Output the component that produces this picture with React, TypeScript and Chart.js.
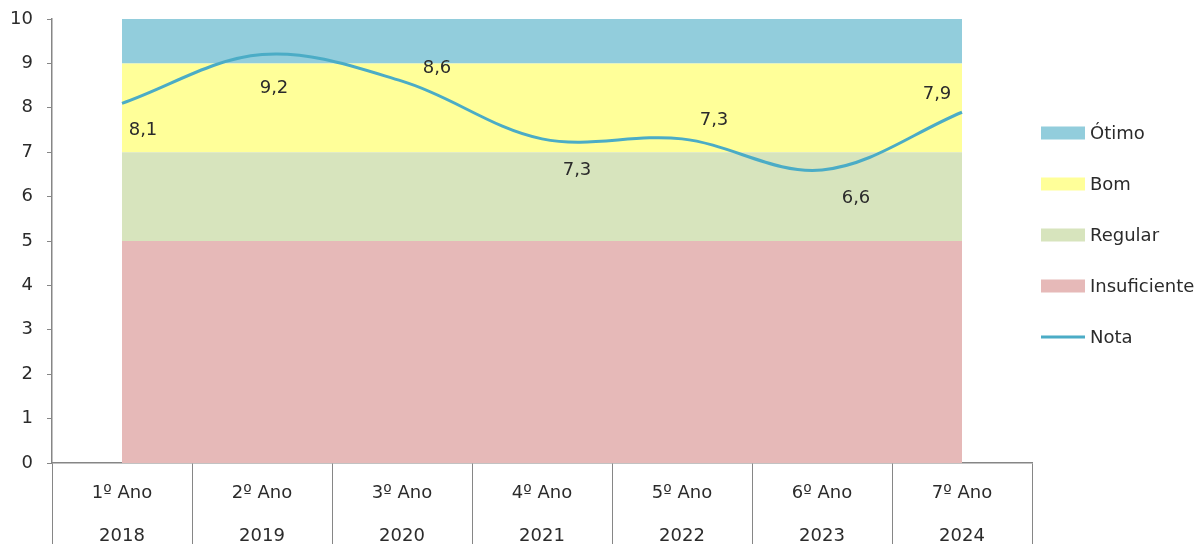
import React, { useEffect, useRef } from "react";
import { Chart, registerables } from "chart.js";

Chart.register(...registerables);

const categories: string[][] = [
  ["1º Ano", "2018"],
  ["2º Ano", "2019"],
  ["3º Ano", "2020"],
  ["4º Ano", "2021"],
  ["5º Ano", "2022"],
  ["6º Ano", "2023"],
  ["7º Ano", "2024"],
];
const insuficiente = [5, 5, 5, 5, 5, 5, 5];
const regular = [2, 2, 2, 2, 2, 2, 2];
const bom = [2, 2, 2, 2, 2, 2, 2];
const otimo = [1, 1, 1, 1, 1, 1, 1];
const nota = [8.1, 9.2, 8.6, 7.3, 7.3, 6.6, 7.9];
const yTicks = [0, 1, 2, 3, 4, 5, 6, 7, 8, 9, 10];

// label placement offsets (style only)
const labelOffsets: [number, number][] = [
  [21, 27],
  [12, 34],
  [35, -13],
  [35, 31],
  [32, -19],
  [34, 28],
  [-25, -18],
];

const FONT = "'DejaVu Sans', sans-serif";
const TEXT = "#2b2b2b";
const AXIS = "#868686";

const COLORS = {
  otimo: "#92CDDC",
  bom: "#FFFF99",
  regular: "#D7E4BD",
  insuficiente: "#E6B9B8",
  nota: "#4BACC6",
};

export default function App() {
  const ref = useRef<HTMLCanvasElement | null>(null);

  useEffect(() => {
    document.body.style.margin = "0";
    const canvas = ref.current;
    if (!canvas) return;

    const dataLabels = {
      id: "dataLabels",
      afterDatasetsDraw(chart: any) {
        const meta = chart.getDatasetMeta(4);
        const ctx = chart.ctx;
        ctx.save();
        ctx.font = `18px ${FONT}`;
        ctx.fillStyle = TEXT;
        ctx.textAlign = "center";
        ctx.textBaseline = "middle";
        meta.data.forEach((pt: any, i: number) => {
          const [dx, dy] = labelOffsets[i];
          ctx.fillText(nota[i].toFixed(1).replace(".", ","), pt.x + dx, pt.y + dy);
        });
        ctx.restore();
      },
    };

    const customLegend = {
      id: "customLegend",
      afterDraw(chart: any) {
        const ctx = chart.ctx;
        const items = [
          { label: "Ótimo", color: COLORS.otimo, line: false },
          { label: "Bom", color: COLORS.bom, line: false },
          { label: "Regular", color: COLORS.regular, line: false },
          { label: "Insuficiente", color: COLORS.insuficiente, line: false },
          { label: "Nota", color: COLORS.nota, line: true },
        ];
        const x0 = chart.chartArea.right + 9;
        const startY = 133;
        const gap = 51;
        ctx.save();
        ctx.font = `18px ${FONT}`;
        ctx.textBaseline = "middle";
        ctx.textAlign = "left";
        items.forEach((it, i) => {
          const cy = startY + i * gap;
          if (it.line) {
            ctx.strokeStyle = it.color;
            ctx.lineWidth = 3;
            ctx.beginPath();
            ctx.moveTo(x0, cy);
            ctx.lineTo(x0 + 44, cy);
            ctx.stroke();
          } else {
            ctx.fillStyle = it.color;
            ctx.fillRect(x0, cy - 6.5, 44, 13);
          }
          ctx.fillStyle = TEXT;
          ctx.fillText(it.label, x0 + 49, cy + 1);
        });
        ctx.restore();
      },
    };

    const band = (label: string, data: number[], color: string, fill: any) => ({
      label,
      data,
      backgroundColor: color,
      borderColor: color,
      borderWidth: 0,
      pointRadius: 0,
      fill,
      stack: "bands",
      tension: 0,
      order: 1,
    });

    const chart = new Chart(canvas, {
      type: "line",
      data: {
        labels: categories,
        datasets: [
          band("Insuficiente", insuficiente, COLORS.insuficiente, "origin"),
          band("Regular", regular, COLORS.regular, "-1"),
          band("Bom", bom, COLORS.bom, "-1"),
          band("Ótimo", otimo, COLORS.otimo, "-1"),
          {
            label: "Nota",
            data: nota,
            borderColor: COLORS.nota,
            backgroundColor: COLORS.nota,
            borderWidth: 3,
            pointRadius: 0,
            fill: false,
            tension: 0.35,
            stack: "nota",
            order: 0,
          } as any,
        ],
      },
      options: {
        animation: false,
        responsive: false,
        maintainAspectRatio: false,
        layout: { padding: { top: 19, right: 167, left: 0, bottom: 0 } },
        plugins: {
          legend: { display: false },
          tooltip: { enabled: false },
        },
        scales: {
          x: {
            type: "category",
            offset: true,
            grid: {
              offset: true,
              drawOnChartArea: false,
              drawTicks: true,
              tickLength: 90,
              color: AXIS,
              lineWidth: 1,
            },
            border: { display: true, color: AXIS, width: 1.5 },
            ticks: {
              autoSkip: false,
              maxRotation: 0,
              minRotation: 0,
              padding: -81.5,
              color: TEXT,
              font: { family: FONT, size: 18, lineHeight: 43 / 18 },
            },
            afterFit: (scale: any) => {
              scale.height = 81;
              scale.paddingLeft = 0;
              scale.paddingRight = 0;
            },
          } as any,
          y: {
            stacked: true,
            min: 0,
            max: 10,
            afterBuildTicks: (scale: any) => {
              scale.ticks = yTicks.map((v) => ({ value: v }));
            },
            grid: {
              drawOnChartArea: false,
              drawTicks: true,
              tickLength: 5,
              color: AXIS,
            },
            border: { display: true, color: AXIS, width: 1.5 },
            ticks: {
              padding: 14,
              color: TEXT,
              font: { family: FONT, size: 18 },
            },
            afterFit: (scale: any) => {
              scale.width = 52;
              scale.paddingTop = 0;
              scale.paddingBottom = 0;
            },
          } as any,
        },
      },
      plugins: [dataLabels, customLegend],
    });

    return () => chart.destroy();
  }, []);

  return (
    <div style={{ width: 1199, height: 544, position: "relative" }}>
      <canvas ref={ref} width={1199} height={544} style={{ display: "block" }} />
    </div>
  );
}
